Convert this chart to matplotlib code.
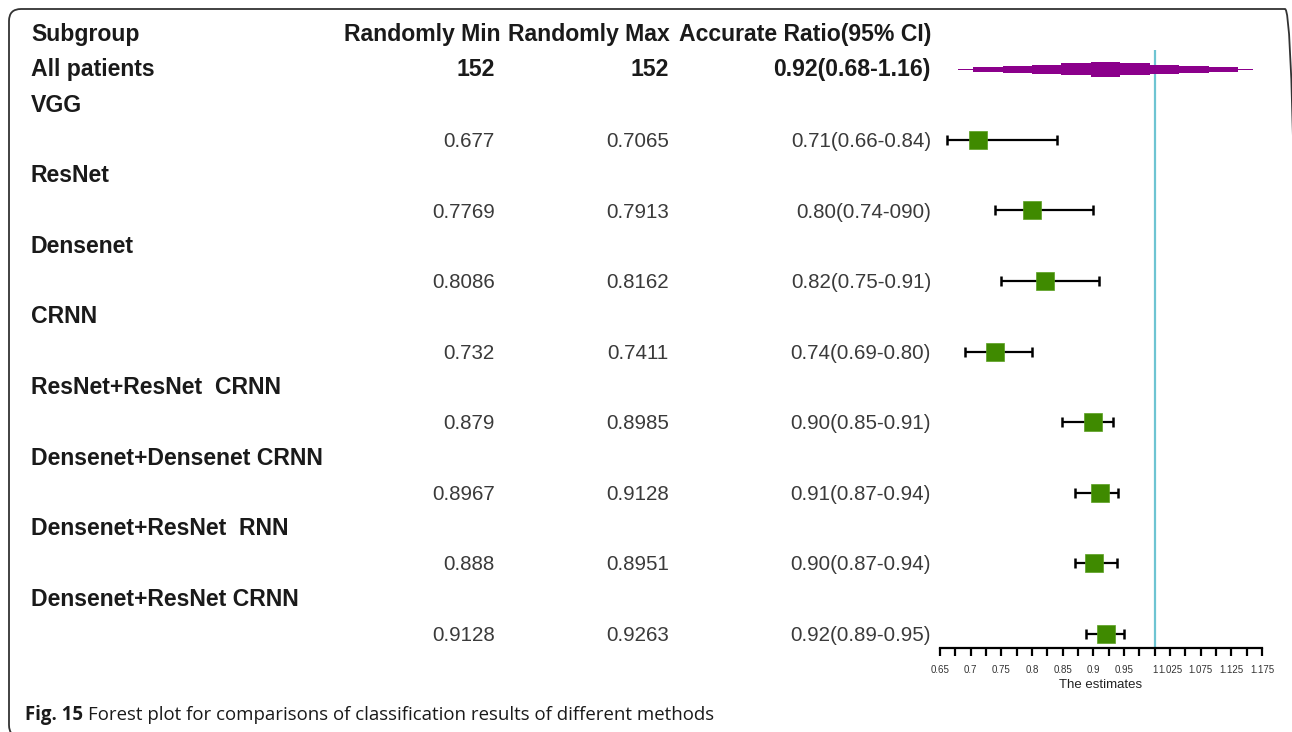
import matplotlib

matplotlib.use("Agg")
import matplotlib.pyplot as plt
import matplotlib.transforms as mtransforms
import numpy as np
from matplotlib.patches import FancyBboxPatch

plt.rcParams["font.family"] = ["Liberation Sans", "DejaVu Sans"]

W_PX, H_PX, DPI = 1292, 732, 100

# Table contents
groups = ["VGG", "ResNet", "Densenet", "CRNN", "ResNet+ResNet  CRNN",
          "Densenet+Densenet CRNN", "Densenet+ResNet  RNN", "Densenet+ResNet CRNN"]
min_txt = ["0.677", "0.7769", "0.8086", "0.732", "0.879", "0.8967", "0.888", "0.9128"]
max_txt = ["0.7065", "0.7913", "0.8162", "0.7411", "0.8985", "0.9128", "0.8951", "0.9263"]
ratio_txt = ["0.71(0.66-0.84)", "0.80(0.74-090)", "0.82(0.75-0.91)", "0.74(0.69-0.80)",
             "0.90(0.85-0.91)", "0.91(0.87-0.94)", "0.90(0.87-0.94)", "0.92(0.89-0.95)"]

# Plotted estimates
est = [0.712, 0.800, 0.821, 0.740, 0.900, 0.911, 0.901, 0.921]
lo = [0.661, 0.740, 0.750, 0.690, 0.849, 0.870, 0.870, 0.888]
hi = [0.840, 0.900, 0.910, 0.800, 0.932, 0.940, 0.939, 0.950]

all_label = "All patients"
all_min, all_max, all_ratio = "152", "152", "0.92(0.68-1.16)"
all_lo, all_hi = 0.68, 1.16

ticks = np.arange(0.65, 1.1751, 0.025)
tick_labels = ["0.65", "", "0.7", "", "0.75", "", "0.8", "", "0.85", "", "0.9", "",
               "0.95", "", "1", "1.025", "", "1.075", "", "1.125", "", "1.175"]

caption_bold = "Fig. 15"
caption_rest = "Forest plot for comparisons of classification results of different methods"

# layout, in pixels of the final image
ROW0_Y, ROW_H = 34, 35.29
AX_X0, AX_X1, AX_Y1 = 940, 1262, 648


def px_to_row(y):
    return (y - ROW0_Y) / ROW_H


fig = plt.figure(figsize=(W_PX / DPI, H_PX / DPI), dpi=DPI, facecolor="white")

top_row = px_to_row(20)
bot_row = px_to_row(AX_Y1)
ax = fig.add_axes([AX_X0 / W_PX, 1 - AX_Y1 / H_PX,
                   (AX_X1 - AX_X0) / W_PX, (AX_Y1 - 20) / H_PX])
ax.set_xlim(0.65, 1.175)
ax.set_ylim(bot_row, top_row)
ax.patch.set_alpha(0)
for s in ("top", "left", "right"):
    ax.spines[s].set_visible(False)
ax.spines["bottom"].set_linewidth(1.6)
ax.set_yticks([])
ax.set_xticks(ticks)
ax.set_xticklabels(tick_labels)
ax.tick_params(axis="x", direction="out", length=6, width=1.6, pad=6,
               labelsize=7, labelcolor="#333333")
ax.set_xlabel("The estimates", fontsize=9.5, labelpad=3, color="#222222")

# reference line at 1
ax.plot([1.0, 1.0], [px_to_row(50), bot_row], color="#6ec4d2", lw=1.6,
        solid_capstyle="butt", zorder=1)

# stepped summary shape for all patients
centre = (all_lo + all_hi) / 2
half = (all_hi - all_lo) / 2
steps = [(1.0, 1.5), (0.9, 4.5), (0.7, 7), (0.5, 9.5), (0.3, 12), (0.1, 15)]
for frac, h_px in steps:
    ax.barh(1, 2 * half * frac, left=centre - half * frac, height=h_px / ROW_H,
            color="#8b008b", edgecolor="none", zorder=3)

# individual estimates
rows = [3 + 2 * i for i in range(len(groups))]
est_a, lo_a, hi_a = np.array(est), np.array(lo), np.array(hi)
ax.errorbar(est_a, rows, xerr=[est_a - lo_a, hi_a - est_a], fmt="none",
            ecolor="black", elinewidth=1.6, capsize=3.5, capthick=1.8, zorder=3)
ax.plot(est_a, rows, "s", color="#3f8a00", ms=12.5, mec="#5aa020", mew=0.5, zorder=4)

# table text
tr = mtransforms.blended_transform_factory(fig.transFigure, ax.transData)


def put(x_px, row, s, bold=False, ha="left", color=None):
    ax.text(x_px / W_PX, row + 0.2, s, transform=tr, ha=ha, va="baseline",
            fontsize=16.6 if bold else 14.8, fontweight="bold" if bold else "normal",
            color=color or ("#1a1a1a" if bold else "#3a3a3a"), clip_on=False)


put(31, 0, "Subgroup", bold=True)
put(500, 0, "Randomly Min", bold=True, ha="right")
put(670, 0, "Randomly Max", bold=True, ha="right")
put(931, 0, "Accurate Ratio(95% CI)", bold=True, ha="right")

put(31, 1, all_label, bold=True)
put(495, 1, all_min, bold=True, ha="right")
put(669, 1, all_max, bold=True, ha="right")
put(931, 1, all_ratio, bold=True, ha="right")

for i, g in enumerate(groups):
    put(31, 2 + 2 * i, g, bold=True)
    put(495, 3 + 2 * i, min_txt[i], ha="right")
    put(669, 3 + 2 * i, max_txt[i], ha="right")
    put(931, 3 + 2 * i, ratio_txt[i], ha="right")

# caption: bold label followed by plain text
cap_y = 1 - 720 / H_PX
t_bold = fig.text(25 / W_PX, cap_y, caption_bold, fontsize=13.4, fontweight="bold",
                  family="Open Sans", color="#1a1a1a", ha="left", va="baseline")
renderer = fig.canvas.get_renderer()
bb = t_bold.get_window_extent(renderer)
fig.text((bb.x1 + 5) / W_PX, cap_y, caption_rest, fontsize=13.4, family="Open Sans",
         color="#1a1a1a", ha="left", va="baseline")

# frame
frame = FancyBboxPatch((9 / DPI, -0.05), (W_PX + 5 - 9) / DPI, (H_PX - 9) / DPI + 0.05,
                       boxstyle="round,pad=0,rounding_size=0.12",
                       transform=fig.dpi_scale_trans, fill=False,
                       edgecolor="#333333", lw=1.3)
fig.patches.append(frame)

fig.savefig("out.png", dpi=DPI, facecolor="white")
